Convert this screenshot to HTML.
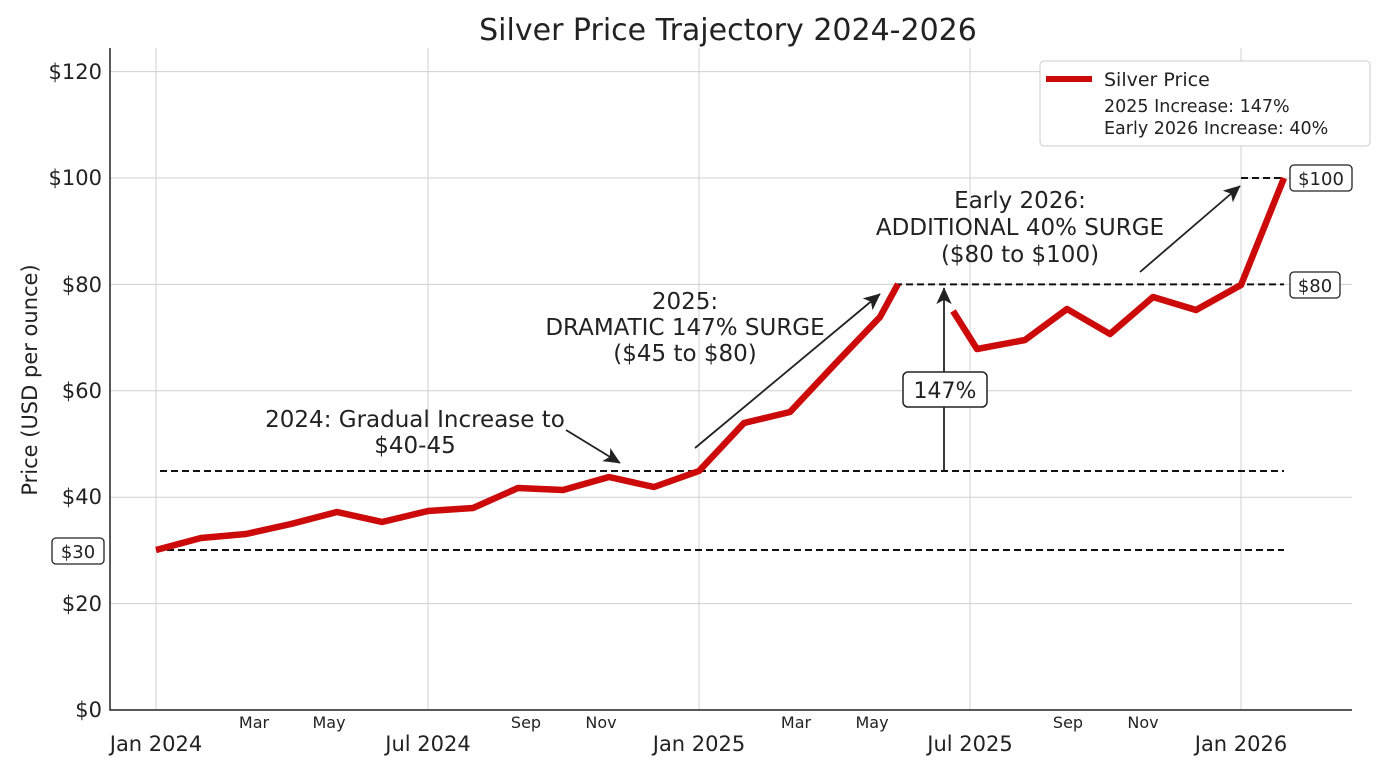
<!DOCTYPE html>
<html><head><meta charset="utf-8"><style>body{margin:0;background:#fff}svg{display:block;font-family:"DejaVu Sans","Liberation Sans",sans-serif}</style></head><body>
<svg width="1376" height="768" viewBox="0 0 1376 768" xmlns="http://www.w3.org/2000/svg">
<defs><marker id="ah" viewBox="0 0 10 10" refX="9" refY="5" markerWidth="7" markerHeight="7" markerUnits="userSpaceOnUse" orient="auto" style="overflow:visible"><path d="M-14,-6 L10,5 L-14,16 L-8,5 z" fill="#222"/></marker></defs>
<text x="728" y="40" font-size="30" text-anchor="middle" fill="#222">Silver Price Trajectory 2024-2026</text>
<g stroke="#d0d0d0" stroke-width="1">
<line x1="110" y1="71.6" x2="1352" y2="71.6"/><line x1="110" y1="178" x2="1352" y2="178"/><line x1="110" y1="284.4" x2="1352" y2="284.4"/><line x1="110" y1="390.8" x2="1352" y2="390.8"/><line x1="110" y1="497.2" x2="1352" y2="497.2"/><line x1="110" y1="603.6" x2="1352" y2="603.6"/>
<line x1="156" y1="48" x2="156" y2="710"/><line x1="428" y1="48" x2="428" y2="710"/><line x1="699" y1="48" x2="699" y2="710"/><line x1="970" y1="48" x2="970" y2="710"/><line x1="1241" y1="48" x2="1241" y2="710"/>
</g>
<path d="M110,48 V710 H1352" fill="none" stroke="#222" stroke-width="1.5"/>
<g font-size="21" fill="#222" text-anchor="end">
<text x="102" y="79">$120</text><text x="102" y="185">$100</text><text x="102" y="292">$80</text><text x="102" y="398">$60</text><text x="102" y="504">$40</text><text x="102" y="611">$20</text><text x="102" y="717">$0</text></g>
<g font-size="21" fill="#222" text-anchor="middle">
<text x="156" y="751">Jan 2024</text><text x="428" y="751">Jul 2024</text><text x="699" y="751">Jan 2025</text><text x="970" y="751">Jul 2025</text><text x="1241" y="751">Jan 2026</text></g>
<g font-size="16" fill="#222" text-anchor="middle">
<text x="254" y="728">Mar</text><text x="329" y="728">May</text><text x="526" y="728">Sep</text><text x="601" y="728">Nov</text><text x="796" y="728">Mar</text><text x="872" y="728">May</text><text x="1068" y="728">Sep</text><text x="1143" y="728">Nov</text></g>
<text transform="translate(37,380) rotate(-90)" font-size="21" text-anchor="middle" fill="#222">Price (USD per ounce)</text>
<g stroke="#111" stroke-width="2" stroke-dasharray="7,4" fill="none">
<line x1="156" y1="550" x2="1284" y2="550"/><line x1="160" y1="471" x2="1284" y2="471"/><line x1="895" y1="284.4" x2="1284" y2="284.4"/><line x1="1241" y1="178" x2="1284" y2="178"/></g>
<polyline fill="none" stroke="#cc0a0a" stroke-width="6.5" stroke-linejoin="round" points="156,550 201,538 246,534 291,524 337,512 382,522 428,511 473,508 518,488 563,490 609,477 654,487 699,471 744,423 790,412 835,364 880,317 898,284"/>
<polyline fill="none" stroke="#cc0a0a" stroke-width="6.5" stroke-linejoin="round" points="953,311 977,349 1025,340 1067,309 1110,334 1153,297 1196,310 1241,285 1284,178"/>
<g stroke="#222" stroke-width="1.8" fill="none" marker-end="url(#ah)">
<line x1="566" y1="430" x2="620" y2="463"/><line x1="695" y1="448" x2="880" y2="294"/><line x1="944" y1="471" x2="944" y2="288"/><line x1="1140" y1="272" x2="1240" y2="186"/></g>
<g font-size="23" fill="#222" text-anchor="middle">
<text x="415" y="427">2024: Gradual Increase to</text><text x="415" y="453">$40-45</text>
<text x="685" y="309">2025:</text><text x="685" y="335">DRAMATIC 147% SURGE</text><text x="685" y="361">($45 to $80)</text>
<text x="1020" y="208">Early 2026:</text><text x="1020" y="235">ADDITIONAL 40% SURGE</text><text x="1020" y="262">($80 to $100)</text></g>
<rect x="903" y="372" width="84" height="35" rx="5" fill="#fff" stroke="#222" stroke-width="1.5"/>
<text x="945" y="398" font-size="22" text-anchor="middle" fill="#222">147%</text>
<g fill="#fff" stroke="#222" stroke-width="1.3"><rect x="52" y="538" width="52" height="26" rx="4"/><rect x="1290" y="165" width="62" height="26" rx="4"/><rect x="1290" y="272" width="50" height="26" rx="4"/></g>
<g font-size="18" fill="#222" text-anchor="middle"><text x="78" y="558">$30</text><text x="1321" y="185">$100</text><text x="1315" y="292">$80</text></g>
<rect x="1040" y="61" width="330" height="85" rx="4" fill="#fff" stroke="#ccc"/>
<line x1="1046" y1="79" x2="1092" y2="79" stroke="#cc0a0a" stroke-width="6"/>
<text x="1104" y="86" font-size="19" fill="#222">Silver Price</text>
<text x="1104" y="112" font-size="17.5" fill="#222">2025 Increase: 147%</text>
<text x="1104" y="134" font-size="17.5" fill="#222">Early 2026 Increase: 40%</text>
</svg></body></html>
